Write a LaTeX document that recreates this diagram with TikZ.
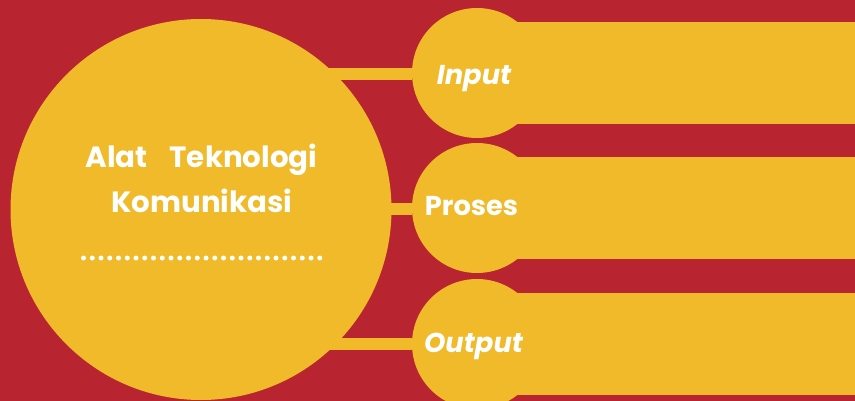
\documentclass[tikz,border=0pt]{standalone}
\usepackage{fontspec}
\setmainfont{Poppins}
\definecolor{bgred}{RGB}{184,36,48}
\definecolor{gold}{RGB}{241,186,42}
\begin{document}
\begin{tikzpicture}[x=1pt,y=-1pt,
  disc/.style={circle,fill=gold,inner sep=0pt,minimum size=#1},
  bar/.style={fill=gold},
  link/.style={draw=gold,line width=12pt},
  lbl/.style={text=white,inner sep=0pt,anchor=base,font=\bfseries\fontsize{27.3}{33}\selectfont},
  ilbl/.style={lbl,font=\bfseries\itshape\fontsize{27.3}{33}\selectfont},
  ttl/.style={text=white,inner sep=0pt,anchor=base,font=\bfseries\fontsize{29.3}{35}\selectfont}]
\fill[bgred] (0,0) rectangle (855,401);
\useasboundingbox (0,0) rectangle (855,401);
% bars
\fill[bar] (477,22) rectangle (855,124);
\fill[bar] (477,157) rectangle (855,259);
\fill[bar] (477,293) rectangle (855,395);
% circles
\node[disc=381] (main) at (201,209.5) {};
\node[disc=130] (in) at (477,73) {};
\node[disc=130] (pro) at (477,208) {};
\node[disc=130] (out) at (477,344) {};
% connectors
\draw[link] (in.west |- 0,74) -- (main.center |- 0,74);
\draw[link] (pro.west |- 0,209) -- (main.center |- 0,209);
\draw[link] (out.west |- 0,344) -- (main.center |- 0,344);
% texts
\node[ttl] (t1) at (201.5,168) {Alat\hspace{0.75em}Teknologi};
\node[ttl] (t2) at (202,213) {Komunikasi};
\foreach \i in {0,...,27} \fill[white] (83.5+\i*8.75,258) circle (2.5pt);
\node[ilbl] (lin) at (474,85) {Input};
\node[lbl] (lpro) at (471.5,215) {Proses};
\node[ilbl] (lout) at (473.5,352) {Output};
\end{tikzpicture}
\end{document}
